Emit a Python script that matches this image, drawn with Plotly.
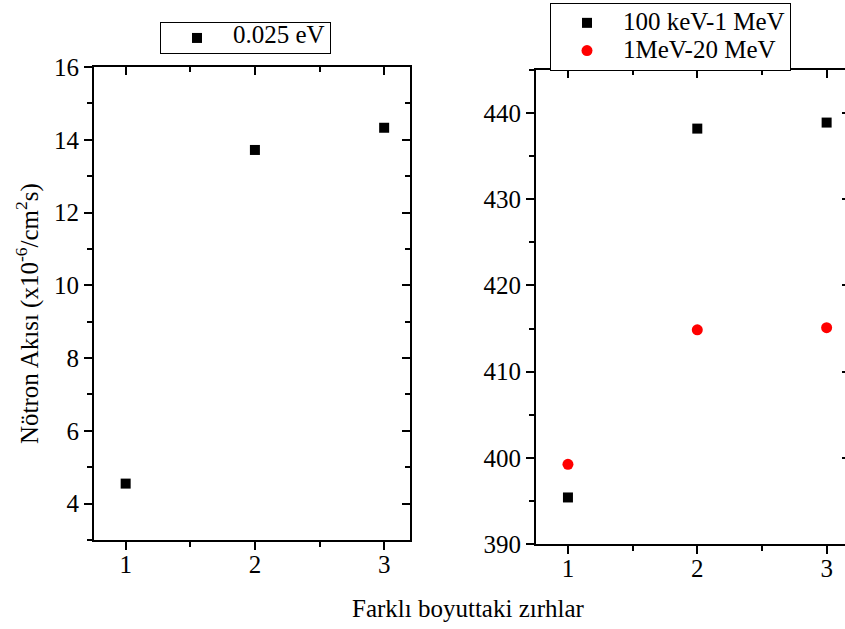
import plotly.graph_objects as go

# Data
x_cat = [1, 2, 3]
thermal = [4.55, 13.72, 14.33]          # 0.025 eV
epi = [395.4, 438.2, 438.9]             # 100 keV-1 MeV
fast = [399.25, 414.85, 415.1]          # 1MeV-20 MeV
names = ["0.025 eV", "100 keV-1 MeV", "1MeV-20 MeV"]
y_title = "Nötron Akısı (x10<sup>-6</sup>/cm<sup>2</sup>s)"
x_title = "Farklı boyuttaki zırhlar"

FONT = "Liberation Serif"
FS = 25
W, H = 845, 629


def big(t):
    return f'<span style="font-size:{FS}px">{t}</span>'


fig = go.Figure()
fig.add_trace(go.Scatter(x=x_cat, y=thermal, mode="markers", name=big(names[0]),
                         marker=dict(symbol="square", size=10, color="black"),
                         xaxis="x", yaxis="y", legend="legend"))
fig.add_trace(go.Scatter(x=x_cat, y=epi, mode="markers", name=big(names[1]),
                         marker=dict(symbol="square", size=10, color="black"),
                         xaxis="x2", yaxis="y2", legend="legend2"))
fig.add_trace(go.Scatter(x=x_cat, y=fast, mode="markers", name=big(names[2]),
                         marker=dict(symbol="circle", size=11, color="red"),
                         xaxis="x2", yaxis="y2", legend="legend2"))
# empty traces so mirror axes are drawn
for xa, ya in [("x3", "y3"), ("x4", "y4")]:
    fig.add_trace(go.Scatter(x=[], y=[], showlegend=False, xaxis=xa, yaxis=ya,
                             hoverinfo="skip"))

tickfont = dict(family=FONT, size=FS, color="black")
base = dict(showgrid=False, zeroline=False, showline=True, linecolor="black",
            linewidth=2, tickcolor="black", tickwidth=1.5, ticklen=8,
            tickfont=tickfont, automargin=False)

# domains in pixels
L1 = [94 / W, 410 / W]
Y1 = [1 - 540 / H, 1 - 67 / H]
L2 = [536 / W, 1.0]
Y2 = [1 - 544 / H, 1 - 70 / H]
xr1 = [0.755, 3.2]
xr2 = [0.753, 3.142]
yr1 = [3, 16]
yr2 = [390, 445]

fig.update_layout(
    width=W, height=H, margin=dict(l=0, r=0, t=0, b=0, autoexpand=False),
    paper_bgcolor="white", plot_bgcolor="white", showlegend=True,
    font=dict(family=FONT, size=FS, color="black"),
    xaxis=dict(base, domain=L1, anchor="y", range=xr1, ticks="outside",
               tickmode="linear", tick0=1, dtick=1, ticklabelstandoff=-7,
               minor=dict(ticks="outside", ticklen=5, tickcolor="black", dtick=0.5, tick0=1)),
    yaxis=dict(base, domain=Y1, anchor="x", range=yr1, ticks="outside",
               tickmode="linear", tick0=4, dtick=2,
               minor=dict(ticks="outside", ticklen=5, tickcolor="black", dtick=1, tick0=3)),
    xaxis3=dict(base, overlaying="x", anchor="y", side="top", range=xr1, ticks="inside",
                showticklabels=False, tickmode="linear", tick0=1, dtick=1,
                minor=dict(ticks="inside", ticklen=5, tickcolor="black", dtick=0.5, tick0=1)),
    yaxis3=dict(base, overlaying="y", anchor="x", side="right", range=yr1, ticks="inside",
                showticklabels=False, tickmode="linear", tick0=4, dtick=2,
                minor=dict(ticks="inside", ticklen=5, tickcolor="black", dtick=1, tick0=3)),
    xaxis2=dict(base, domain=L2, anchor="y2", range=xr2, ticks="outside",
                tickmode="linear", tick0=1, dtick=1, ticklabelstandoff=-7,
                minor=dict(ticks="outside", ticklen=5, tickcolor="black", dtick=0.5, tick0=1)),
    yaxis2=dict(base, domain=Y2, anchor="x2", range=yr2, ticks="outside",
                tickmode="linear", tick0=390, dtick=10,
                minor=dict(ticks="outside", ticklen=5, tickcolor="black", dtick=5, tick0=390)),
    xaxis4=dict(base, overlaying="x2", anchor="y2", side="top", range=xr2, ticks="inside",
                showticklabels=False, tickmode="linear", tick0=1, dtick=1,
                minor=dict(ticks="inside", ticklen=5, tickcolor="black", dtick=0.5, tick0=1)),
    yaxis4=dict(base, overlaying="y2", anchor="x2", side="right", range=yr2, ticks="inside",
                showline=False, ticklen=3,
                showticklabels=False, tickmode="linear", tick0=390, dtick=10),
    legend=dict(x=160 / W, y=1 - 22 / H, xanchor="left", yanchor="top",
                bordercolor="black", borderwidth=1, bgcolor="white",
                font=dict(family=FONT, size=13, color="black"), itemwidth=62),
    legend2=dict(x=550 / W, y=1 - 3 / H, xanchor="left", yanchor="top",
                 bordercolor="black", borderwidth=1, bgcolor="white",
                 font=dict(family=FONT, size=19, color="black"), itemwidth=62),
    annotations=[
        dict(text=y_title, x=28 / W, y=1 - 314 / H, xref="paper", yref="paper",
             textangle=-90, showarrow=False, xanchor="center", yanchor="middle",
             font=dict(family=FONT, size=FS, color="black")),
        dict(text=x_title, x=468 / W, y=1 - 608 / H, xref="paper", yref="paper",
             showarrow=False, xanchor="center", yanchor="middle",
             font=dict(family=FONT, size=FS, color="black")),
    ],
)

fig.write_html("out.html")
